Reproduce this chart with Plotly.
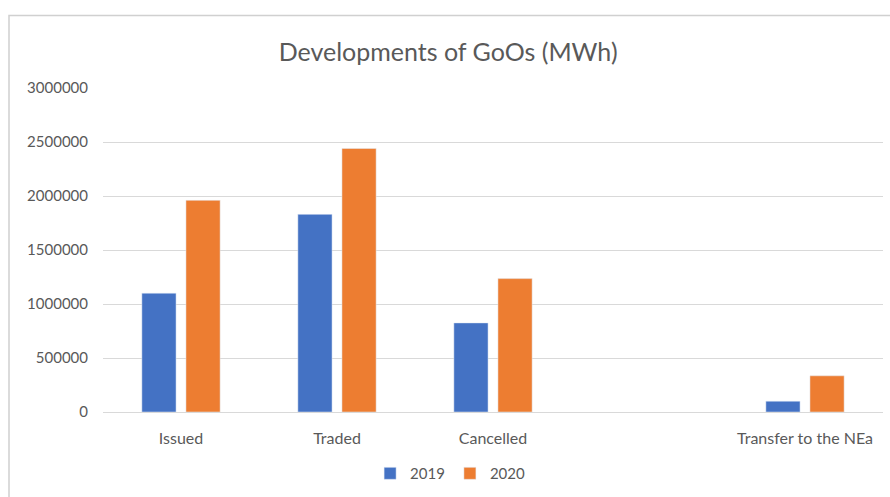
import plotly.graph_objects as go

categories = ["Issued", "Traded", "Cancelled", " ", "Transfer to the NEa"]
values_2019 = [1100000, 1830000, 825000, None, 100000]
values_2020 = [1960000, 2440000, 1235000, None, 335000]
y_ticks = [0, 500000, 1000000, 1500000, 2000000, 2500000, 3000000]

FONT = "Lato, 'Open Sans', sans-serif"
GREY = "#595959"

fig = go.Figure()
fig.add_trace(go.Bar(name="2019", x=categories, y=values_2019, marker_color="#4472C4"))
fig.add_trace(go.Bar(name="2020", x=categories, y=values_2020, marker_color="#ED7D31"))

fig.update_layout(
    width=890, height=497,
    margin=dict(l=103, r=7, t=88, b=83),
    paper_bgcolor="white", plot_bgcolor="white",
    barmode="group", bargap=0.435, bargroupgap=0.224,
    title=dict(text="Developments of GoOs (MWh)", x=0.5035, xanchor="center",
               y=0.895, yanchor="middle",
               font=dict(family=FONT, size=25, color=GREY)),
    font=dict(family=FONT, color=GREY),
    showlegend=True,
    legend=dict(orientation="h", x=0.445, xanchor="center", y=-0.19, yanchor="middle",
                font=dict(family=FONT, size=15, color=GREY), itemwidth=30,
                tracegroupgap=0),
    xaxis=dict(type="category", categoryorder="array", categoryarray=categories,
               showgrid=False, showline=True, linecolor="#D9D9D9", linewidth=1,
               ticks="", ticklabelstandoff=12,
               tickfont=dict(family=FONT, size=16, color=GREY)),
    yaxis=dict(range=[0, 3000000], tickvals=y_ticks, ticktext=[str(v) for v in y_ticks],
               showgrid=True, gridcolor="#D9D9D9", gridwidth=1, zeroline=False,
               showline=False, ticks="", ticklabelstandoff=14,
               tickfont=dict(family=FONT, size=15, color=GREY)),
    shapes=[dict(type="rect", xref="paper", yref="paper",
                 x0=(9 - 103) / 780, x1=(895 - 103) / 780,
                 y0=(414 - 505) / 326, y1=(414 - 15) / 326,
                 line=dict(color="#D0D0D0", width=1.5), fillcolor="rgba(0,0,0,0)",
                 layer="below")],
)

fig.write_html("out.html")
